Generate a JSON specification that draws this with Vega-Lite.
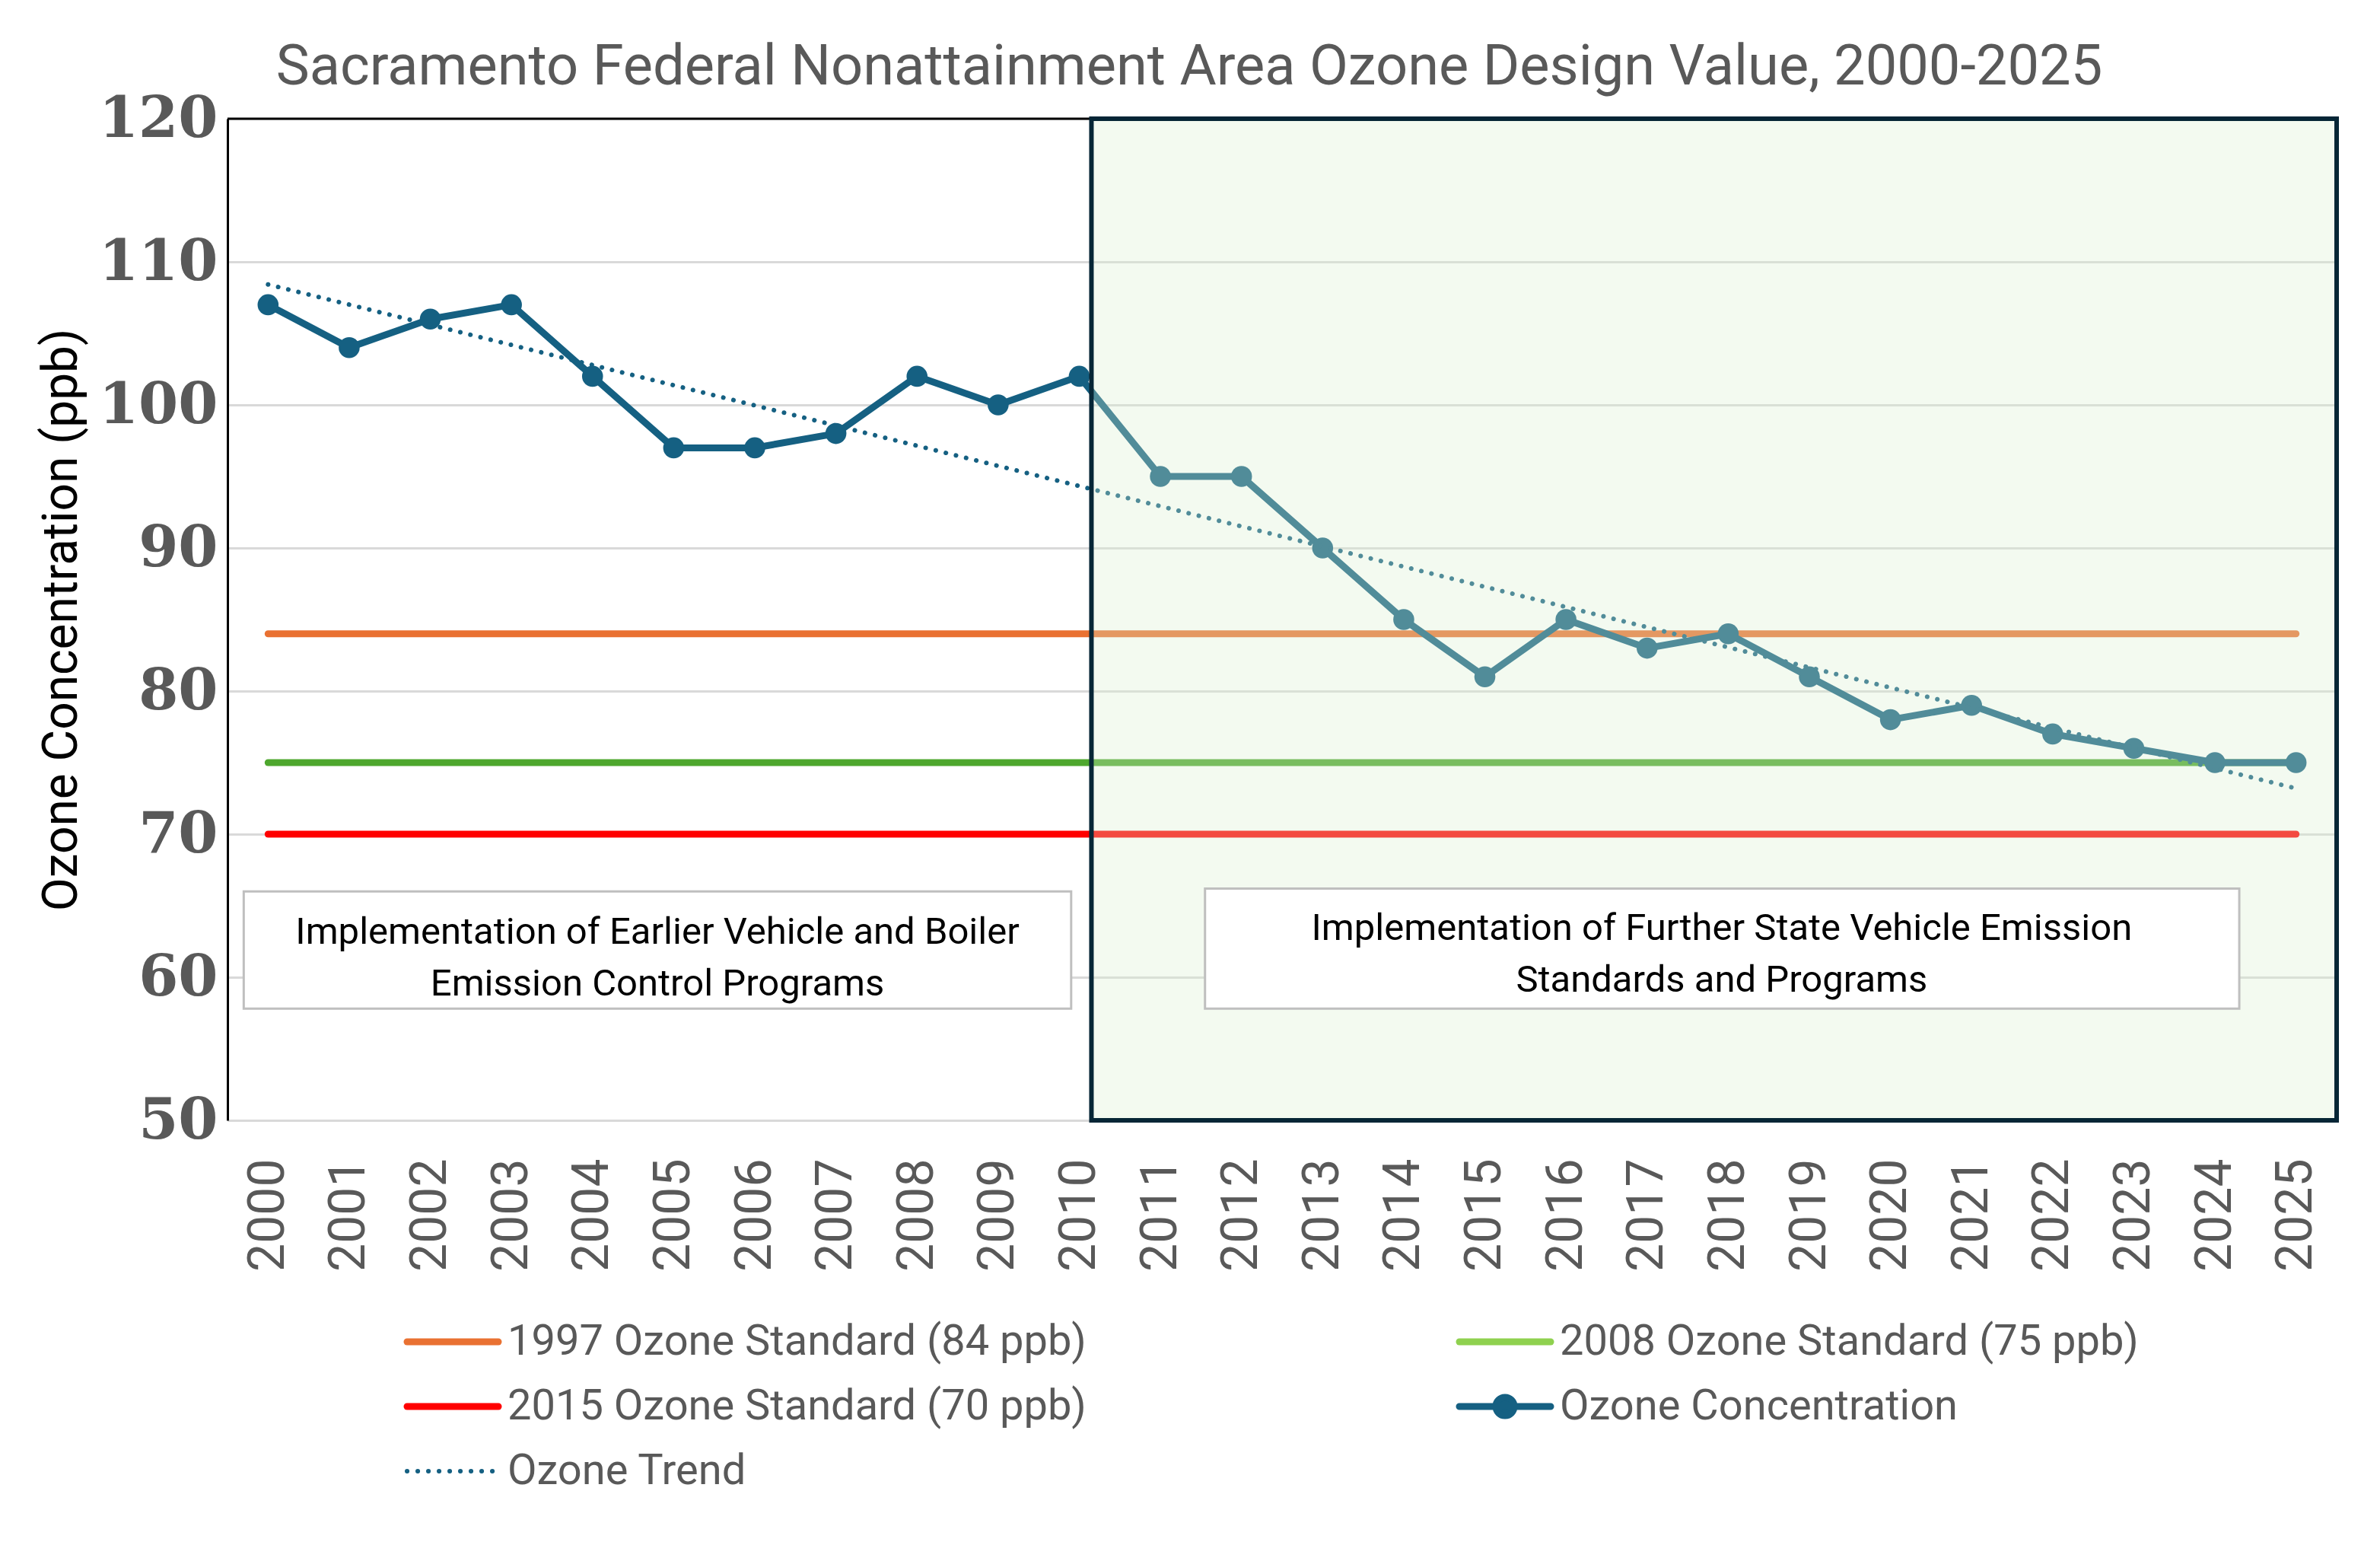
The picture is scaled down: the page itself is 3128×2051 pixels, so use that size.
{
  "$schema": "https://vega.github.io/schema/vega-lite/v6.json",
  "width": 2772,
  "height": 1316,
  "autosize": {"type": "none"},
  "padding": {"left": 299, "top": 156, "right": 57, "bottom": 579},
  "background": "white",
  "config": {"view": {"stroke": null}, "font": "Roboto"},
  "title": {
    "text": "Sacramento Federal Nonattainment Area Ozone Design Value, 2000-2025",
    "font": "Roboto",
    "fontSize": 74,
    "fontWeight": "normal",
    "color": "#595959",
    "anchor": "middle",
    "baseline": "alphabetic",
    "offset": 30,
    "dx": -122,
    "dy": 96
  },
  "datasets": {
    "ozone": [
      {"year": 2000, "ppb": 107}, {"year": 2001, "ppb": 104}, {"year": 2002, "ppb": 106},
      {"year": 2003, "ppb": 107}, {"year": 2004, "ppb": 102}, {"year": 2005, "ppb": 97},
      {"year": 2006, "ppb": 97}, {"year": 2007, "ppb": 98}, {"year": 2008, "ppb": 102},
      {"year": 2009, "ppb": 100}, {"year": 2010, "ppb": 102}, {"year": 2011, "ppb": 95},
      {"year": 2012, "ppb": 95}, {"year": 2013, "ppb": 90}, {"year": 2014, "ppb": 85},
      {"year": 2015, "ppb": 81}, {"year": 2016, "ppb": 85}, {"year": 2017, "ppb": 83},
      {"year": 2018, "ppb": 84}, {"year": 2019, "ppb": 81}, {"year": 2020, "ppb": 78},
      {"year": 2021, "ppb": 79}, {"year": 2022, "ppb": 77}, {"year": 2023, "ppb": 76},
      {"year": 2024, "ppb": 75}, {"year": 2025, "ppb": 75}
    ],
    "standards": [
      {"series": "1997 Ozone Standard (84 ppb)", "ppb": 84},
      {"series": "2008 Ozone Standard (75 ppb)", "ppb": 75},
      {"series": "2015 Ozone Standard (70 ppb)", "ppb": 70}
    ],
    "single": [{}]
  },
  "layer": [
    {
      "data": {"name": "single"},
      "mark": {"type": "rule", "color": "black", "strokeWidth": 3},
      "encoding": {
        "y": {
          "datum": 120,
          "type": "quantitative",
          "scale": {"domain": [50, 120], "nice": false, "zero": false},
          "axis": {
            "values": [50, 60, 70, 80, 90, 100, 110, 120],
            "labelFont": "DejaVu Serif",
            "labelFontWeight": "bold",
            "labelFontSize": 75,
            "labelColor": "#595959",
            "labelPadding": 13,
            "ticks": false,
            "domain": true,
            "domainColor": "black",
            "domainWidth": 3,
            "grid": true,
            "gridColor": "#D9D9D9",
            "gridWidth": 3,
            "title": "Ozone Concentration (ppb)",
            "titleFont": "Roboto",
            "titleFontSize": 64,
            "titleFontWeight": "normal",
            "titleColor": "black",
            "titlePadding": 16
          }
        }
      }
    },
    {
      "data": {"name": "standards"},
      "mark": {"type": "rule", "strokeWidth": 9, "strokeCap": "round"},
      "encoding": {
        "x": {"datum": 2000, "type": "quantitative", "scale": {"domain": [1999.5, 2025.5], "nice": false, "zero": false}},
        "x2": {"datum": 2025},
        "y": {"field": "ppb", "type": "quantitative", "scale": {"domain": [50, 120], "nice": false, "zero": false}},
        "color": {
          "field": "series",
          "type": "nominal",
          "title": null,
          "condition": {"test": "datum.series === '2008 Ozone Standard (75 ppb)'", "value": "#4EA72E"}
        }
      }
    },
    {
      "data": {"name": "ozone"},
      "mark": {"type": "line", "strokeWidth": 9, "strokeJoin": "round"},
      "encoding": {
        "x": {
          "field": "year",
          "type": "quantitative",
          "scale": {"domain": [1999.5, 2025.5], "nice": false, "zero": false},
          "axis": {
            "values": [2000, 2001, 2002, 2003, 2004, 2005, 2006, 2007, 2008, 2009, 2010, 2011, 2012, 2013, 2014, 2015, 2016, 2017, 2018, 2019, 2020, 2021, 2022, 2023, 2024, 2025],
            "format": "d",
            "labelAngle": -90,
            "labelFont": "Roboto",
            "labelFontSize": 66,
            "labelColor": "#595959",
            "labelPadding": 50,
            "labelOverlap": false,
            "labelFlush": false,
            "ticks": false,
            "domain": false,
            "grid": false,
            "title": null
          }
        },
        "y": {"field": "ppb", "type": "quantitative", "scale": {"domain": [50, 120], "nice": false, "zero": false}},
        "color": {
          "datum": "Ozone Concentration",
          "type": "nominal",
          "title": null,
          "scale": {
            "domain": ["1997 Ozone Standard (84 ppb)", "2008 Ozone Standard (75 ppb)", "2015 Ozone Standard (70 ppb)", "Ozone Concentration", "Ozone Trend"],
            "range": ["#E97132", "#8FD14F", "#FF0000", "#156082", "#156082"]
          },
          "legend": {
            "title": null,
            "orient": "none",
            "direction": "horizontal",
            "legendX": 228,
            "legendY": 1579,
            "padding": 0,
            "columns": 2,
            "columnPadding": 472,
            "rowPadding": 27,
            "symbolSize": 1600,
            "symbolStrokeWidth": 9,
            "labelFont": "Roboto",
            "labelFontSize": 56,
            "labelColor": "#595959",
            "labelOffset": 84,
            "labelLimit": 2000,
            "encode": {
              "symbols": {
                "update": {
                  "shape": {"signal": "datum.value === 'Ozone Concentration' ? 'M-1,0H5M1.4,0A0.6,0.6,0,1,1,2.6,0A0.6,0.6,0,1,1,1.4,0Z' : 'M-1,0H5'"},
                  "fill": {"signal": "datum.value === 'Ozone Concentration' ? '#156082' : 'transparent'"},
                  "strokeWidth": {"signal": "datum.value === 'Ozone Trend' ? 6 : 9"},
                  "strokeDash": {"signal": "datum.value === 'Ozone Trend' ? [0.1, 13.9] : []"},
                  "strokeCap": {"value": "round"},
                  "opacity": {"value": 1}
                }
              }
            }
          }
        }
      }
    },
    {
      "data": {"name": "ozone"},
      "mark": {"type": "circle", "size": 760, "opacity": 1},
      "encoding": {
        "x": {"field": "year", "type": "quantitative", "scale": {"domain": [1999.5, 2025.5], "nice": false, "zero": false}},
        "y": {"field": "ppb", "type": "quantitative", "scale": {"domain": [50, 120], "nice": false, "zero": false}},
        "color": {"datum": "Ozone Concentration", "type": "nominal"}
      }
    },
    {
      "data": {"name": "ozone"},
      "transform": [{"regression": "ppb", "on": "year", "method": "linear"}],
      "mark": {"type": "line", "strokeWidth": 6, "strokeCap": "round", "strokeDash": [0.1, 13.6]},
      "encoding": {
        "x": {"field": "year", "type": "quantitative", "scale": {"domain": [1999.5, 2025.5], "nice": false, "zero": false}},
        "y": {"field": "ppb", "type": "quantitative", "scale": {"domain": [50, 120], "nice": false, "zero": false}},
        "color": {"datum": "Ozone Trend", "type": "nominal"}
      }
    },
    {
      "data": {"name": "single"},
      "mark": {"type": "rect", "fill": "#D8EFCF", "fillOpacity": 0.31, "stroke": "#062636", "strokeWidth": 6, "strokeOpacity": 1},
      "encoding": {
        "x": {"datum": 2010.15, "type": "quantitative"},
        "x2": {"datum": 2025.5},
        "y": {"datum": 50, "type": "quantitative"},
        "y2": {"datum": 120}
      }
    },
    {
      "data": {"name": "single"},
      "mark": {"type": "rect", "fill": "white", "stroke": "#BFBFBF", "strokeWidth": 3},
      "encoding": {
        "x": {"datum": 1999.7, "type": "quantitative"},
        "x2": {"datum": 2009.9},
        "y": {"datum": 66.0, "type": "quantitative"},
        "y2": {"datum": 57.8}
      }
    },
    {
      "data": {"name": "single"},
      "mark": {"type": "rect", "fill": "white", "stroke": "#BFBFBF", "strokeWidth": 3},
      "encoding": {
        "x": {"datum": 2011.55, "type": "quantitative"},
        "x2": {"datum": 2024.3},
        "y": {"datum": 66.2, "type": "quantitative"},
        "y2": {"datum": 57.8}
      }
    },
    {
      "data": {"name": "single"},
      "mark": {"type": "text", "font": "Roboto", "fontSize": 49, "color": "black", "align": "center", "baseline": "alphabetic", "lineHeight": 68},
      "encoding": {
        "x": {"datum": 2004.8, "type": "quantitative"},
        "y": {"datum": 62.34, "type": "quantitative"},
        "text": {"value": ["Implementation of Earlier Vehicle and Boiler", "Emission Control Programs"]}
      }
    },
    {
      "data": {"name": "single"},
      "mark": {"type": "text", "font": "Roboto", "fontSize": 49, "color": "black", "align": "center", "baseline": "alphabetic", "lineHeight": 68},
      "encoding": {
        "x": {"datum": 2017.92, "type": "quantitative"},
        "y": {"datum": 62.6, "type": "quantitative"},
        "text": {"value": ["Implementation of Further State Vehicle Emission", "Standards and Programs"]}
      }
    }
  ]
}
